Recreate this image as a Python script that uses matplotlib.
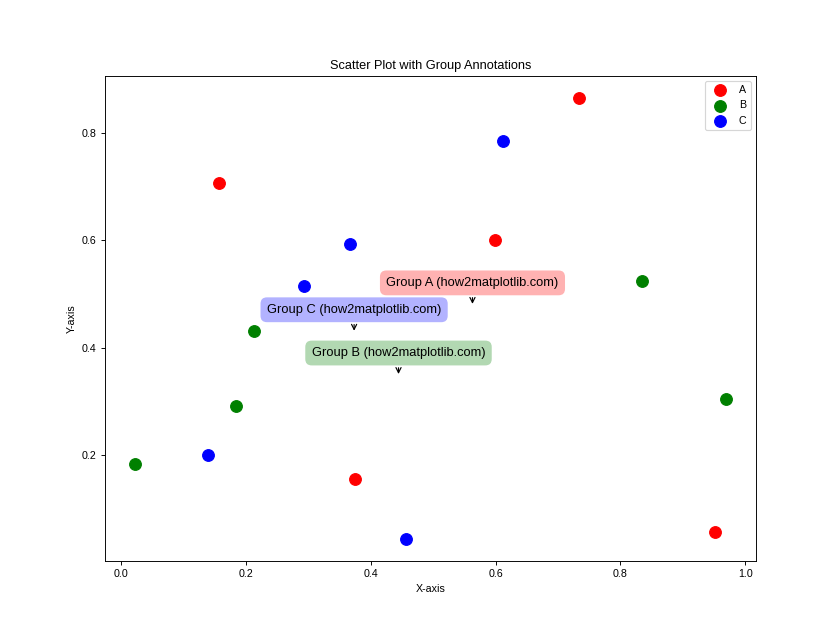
import matplotlib.pyplot as plt
import numpy as np

plt.rcParams['font.family'] = ['Liberation Sans', 'DejaVu Sans']
plt.rcParams['font.size'] = 9.1

# ---------------- DATA ---------------- #
GROUPS = ["A", "B", "C"]
COLORS = ["red", "green", "blue"]

x_a = [0.157, 0.733, 0.599, 0.374, 0.951]
y_a = [0.707, 0.865, 0.601, 0.155, 0.058]

x_b = [0.021, 0.183, 0.213, 0.834, 0.970]
y_b = [0.183, 0.291, 0.432, 0.524, 0.304]

x_c = [0.139, 0.292, 0.366, 0.612, 0.456]
y_c = [0.200, 0.514, 0.592, 0.785, 0.045]

xs = [x_a, x_b, x_c]
ys = [y_a, y_b, y_c]

# ---------------- PLOT ---------------- #
fig, ax = plt.subplots(figsize=(10, 7.5), dpi=84)

for name, color, gx, gy in zip(GROUPS, COLORS, xs, ys):
    ax.scatter(gx, gy, c=color, s=100, label=name)

# label each group at its mean position
for name, color, gx, gy in zip(GROUPS, COLORS, xs, ys):
    cx, cy = np.mean(gx), np.mean(gy)
    ax.annotate(f"Group {name} (how2matplotlib.com)", xy=(cx, cy),
                xytext=(0, 20), textcoords='offset points',
                ha='center', va='center', fontsize=11,
                bbox=dict(boxstyle='round,pad=0.5', fc=color, alpha=0.3, ec='none'),
                arrowprops=dict(arrowstyle='->', connectionstyle='arc3,rad=0'))

ax.set_title("Scatter Plot with Group Annotations")
ax.set_xlabel("X-axis")
ax.set_ylabel("Y-axis")
ax.legend()

fig.savefig("out.png", dpi=84)
